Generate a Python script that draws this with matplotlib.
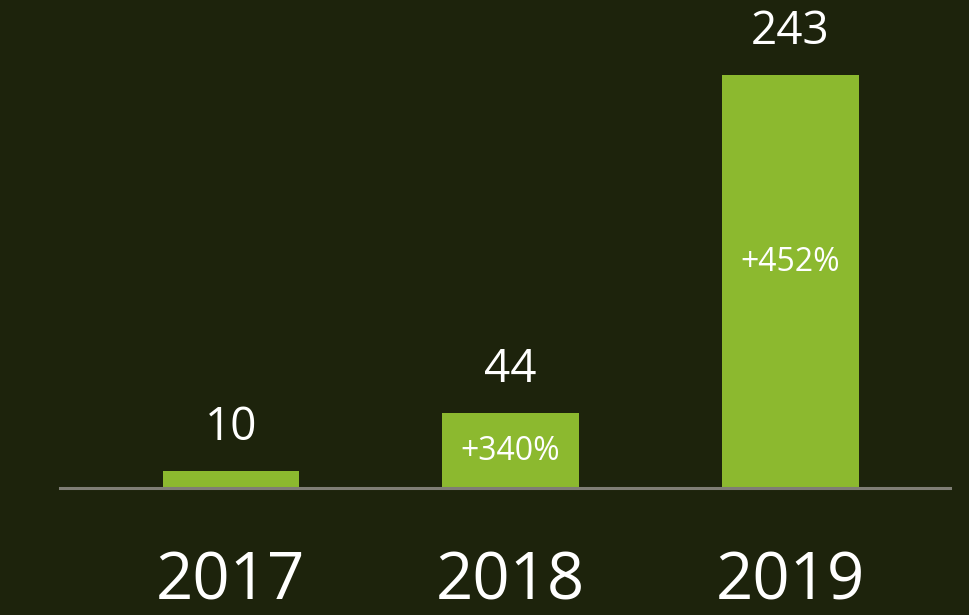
import matplotlib
matplotlib.use("Agg")
from matplotlib import pyplot as plt

years = ["2017", "2018", "2019"]
counts = [10, 44, 243]
growth = ["", "+340%", "+452%"]

BG = "#1d230c"
GREEN = "#8cb92f"

plt.rcParams['font.family'] = ['Open Sans', 'DejaVu Sans']

fig = plt.figure(figsize=(9.69, 6.15), dpi=100, facecolor=BG)
ax = fig.add_axes([60 / 969, 127 / 615, 890 / 969, 488 / 615])
ax.set_facecolor(BG)

x = range(len(years))
bars = ax.bar(x, counts, width=0.487, color=GREEN, zorder=2)
ax.axhline(0, color="#7f7e76", lw=2.2, zorder=3, clip_on=False)

# value above each bar, growth inside
growth_pos = [0.5, 0.49, 0.545]
for i, b in enumerate(bars):
    h = b.get_height()
    ax.annotate(str(counts[i]), (b.get_x() + b.get_width() / 2, h),
                xytext=(0, 31), textcoords="offset points",
                ha="center", va="center", color="white", fontsize=33)
    if growth[i]:
        ax.text(b.get_x() + b.get_width() / 2, h * growth_pos[i], growth[i],
                ha="center", va="center", color="white", fontsize=23)

ax.set_xlim(-0.61, 2.57)
ax.set_ylim(0, 287)
ax.set_xticks(list(x))
ax.set_xticklabels(years, fontsize=47, color="white")
ax.tick_params(axis="x", length=0, pad=44)
ax.set_yticks([])
for s in ax.spines.values():
    s.set_visible(False)

fig.savefig("out.png", dpi=100, facecolor=BG)
